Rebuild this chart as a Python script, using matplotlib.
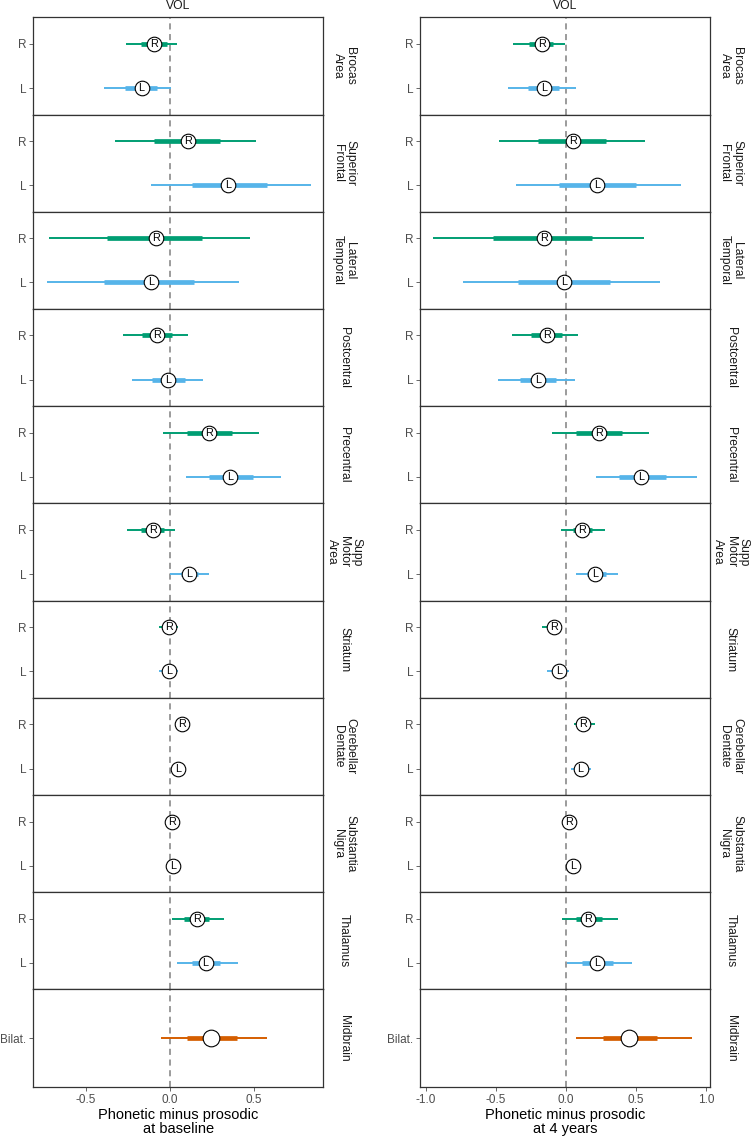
import matplotlib
matplotlib.use("Agg")
import matplotlib.pyplot as plt
import numpy as np

plt.rcParams['font.family'] = ['Liberation Sans', 'DejaVu Sans']
plt.rcParams['axes.unicode_minus'] = False

regions = ["Brocas\nArea", "Superior\nFrontal", "Lateral\nTemporal", "Postcentral",
           "Precentral", "Supp\nMotor\nArea", "Striatum", "Cerebellar\nDentate",
           "Substantia\nNigra", "Thalamus"]
bilat_region = "Midbrain"
sides = ["R", "L"]

# ---- baseline ----
base_R_mid  = [-0.097, 0.105, -0.083, -0.075, 0.230, -0.099, -0.006, 0.071, 0.010, 0.159]
base_R_lo95 = [-0.262, -0.327, -0.718, -0.282, -0.042, -0.258, -0.067, 0.040, -0.005, 0.010]
base_R_hi95 = [0.040, 0.514, 0.476, 0.105, 0.528, 0.030, 0.049, 0.100, 0.025, 0.321]
base_R_lo66 = [-0.171, -0.095, -0.375, -0.165, 0.103, -0.171, -0.035, 0.055, 0.002, 0.083]
base_R_hi66 = [-0.020, 0.298, 0.189, 0.010, 0.367, -0.036, 0.020, 0.085, 0.018, 0.232]

base_L_mid  = [-0.169, 0.347, -0.115, -0.010, 0.357, 0.113, -0.004, 0.050, 0.020, 0.212]
base_L_lo95 = [-0.391, -0.113, -0.734, -0.228, 0.095, 0.002, -0.067, 0.025, 0.005, 0.044]
base_L_hi95 = [0.006, 0.837, 0.413, 0.194, 0.661, 0.234, 0.049, 0.075, 0.035, 0.405]
base_L_lo66 = [-0.268, 0.133, -0.391, -0.105, 0.232, 0.067, -0.035, 0.038, 0.012, 0.133]
base_L_hi66 = [-0.079, 0.575, 0.143, 0.089, 0.492, 0.169, 0.025, 0.062, 0.028, 0.298]

base_mid_bilat = [0.246, -0.054, 0.575, 0.103, 0.397]  # mid, lo95, hi95, lo66, hi66

# ---- 4 years ----
y4_R_mid  = [-0.171, 0.048, -0.157, -0.133, 0.233, 0.112, -0.086, 0.126, 0.026, 0.157]
y4_R_lo95 = [-0.374, -0.479, -0.945, -0.383, -0.098, -0.038, -0.169, 0.060, 0.005, -0.029]
y4_R_hi95 = [-0.007, 0.564, 0.557, 0.090, 0.593, 0.279, -0.033, 0.205, 0.045, 0.371]
y4_R_lo66 = [-0.260, -0.198, -0.521, -0.248, 0.074, 0.050, -0.130, 0.090, 0.015, 0.069]
y4_R_hi66 = [-0.088, 0.288, 0.186, -0.026, 0.400, 0.188, -0.050, 0.165, 0.037, 0.255]

y4_L_mid  = [-0.157, 0.221, -0.014, -0.195, 0.538, 0.210, -0.050, 0.105, 0.050, 0.221]
y4_L_lo95 = [-0.410, -0.355, -0.731, -0.483, 0.217, 0.076, -0.131, 0.040, 0.030, 0.007]
y4_L_hi95 = [0.069, 0.819, 0.669, 0.062, 0.936, 0.371, 0.021, 0.181, 0.070, 0.474]
y4_L_lo66 = [-0.269, -0.048, -0.338, -0.324, 0.376, 0.150, -0.090, 0.070, 0.040, 0.114]
y4_L_hi66 = [-0.050, 0.498, 0.314, -0.069, 0.717, 0.288, -0.010, 0.145, 0.060, 0.338]

y4_mid_bilat = [0.450, 0.074, 0.902, 0.264, 0.652]

col_titles = ["Phonetic minus prosodic\nat baseline", "Phonetic minus prosodic\nat 4 years"]
xticks_cols = [[-0.5, 0.0, 0.5], [-1.0, -0.5, 0.0, 0.5, 1.0]]
xlims = [(-0.814, 0.911), (-1.04, 1.026)]

colors = {"R": "#009E73", "L": "#56B4E9", "Bilat.": "#D55E00"}

W, H = 753, 1140
fig = plt.figure(figsize=(W / 100, H / 100), dpi=100)

col_left_px = [33.3, 420.0]
col_width_px = 289.7
top_px, bot_px = 17.3, 1086.7
n_rows = len(regions) + 1
row_h = (bot_px - top_px) / n_rows

cols = [
    dict(R=(base_R_mid, base_R_lo95, base_R_hi95, base_R_lo66, base_R_hi66),
         L=(base_L_mid, base_L_lo95, base_L_hi95, base_L_lo66, base_L_hi66),
         B=base_mid_bilat),
    dict(R=(y4_R_mid, y4_R_lo95, y4_R_hi95, y4_R_lo66, y4_R_hi66),
         L=(y4_L_mid, y4_L_lo95, y4_L_hi95, y4_L_lo66, y4_L_hi66),
         B=y4_mid_bilat),
]

tick_col = "#4d4d4d"
frame_col = "#333333"


def draw_interval(ax, y, mid, lo95, hi95, lo66, hi66, color, label, big=False):
    ax.plot([lo95, hi95], [y, y], color=color, lw=1.4, solid_capstyle="butt", zorder=2)
    ax.plot([lo66, hi66], [y, y], color=color, lw=3.4, solid_capstyle="butt", zorder=2)
    ax.scatter([mid], [y], s=(12 if big else 10.5) ** 2, facecolor="white",
               edgecolor="black", linewidth=0.8, zorder=3)
    if label:
        ax.text(mid, y, label, ha="center", va="center", fontsize=7.8,
                color="black", zorder=4)


for ci, cd in enumerate(cols):
    for ri in range(n_rows):
        y0 = top_px + ri * row_h
        ax = fig.add_axes([col_left_px[ci] / W, 1 - (y0 + row_h) / H,
                           col_width_px / W, row_h / H])
        ax.set_xlim(*xlims[ci])
        ax.axvline(0, color="#808080", lw=1.1, ls=(0, (4, 3)), zorder=1)
        if ri < len(regions):
            ax.set_ylim(2.6, 0.4)
            for si, s in enumerate(sides):
                mid, lo95, hi95, lo66, hi66 = [v[ri] for v in cd[s]]
                draw_interval(ax, si + 1, mid, lo95, hi95, lo66, hi66, colors[s], s)
            ax.set_yticks([1, 2])
            ax.set_yticklabels(sides)
            strip = regions[ri]
        else:
            ax.set_ylim(1.6, 0.4)
            mid, lo95, hi95, lo66, hi66 = cd["B"]
            draw_interval(ax, 1, mid, lo95, hi95, lo66, hi66, colors["Bilat."], None, big=True)
            ax.set_yticks([1])
            ax.set_yticklabels(["Bilat."])
            strip = bilat_region
        ax.tick_params(axis="y", length=3, width=0.6, color=tick_col, labelcolor=tick_col,
                       labelsize=8.5, pad=2)
        for sp in ax.spines.values():
            sp.set_color(frame_col)
            sp.set_linewidth(0.9)
        if ri == n_rows - 1:
            ax.set_xticks(xticks_cols[ci])
            ax.set_xticklabels([f"{v:.1f}" for v in xticks_cols[ci]])
            ax.tick_params(axis="x", length=3, width=0.6, color=tick_col, labelcolor=tick_col,
                           labelsize=8.5, pad=2)
            ax.set_xlabel(col_titles[ci], fontsize=10.5, color="black", labelpad=2,
                          linespacing=1.0)
        else:
            ax.set_xticks([])
        ax.text(1.0 + 21 / col_width_px, 0.5, strip, transform=ax.transAxes,
                rotation=-90, ha="center", va="center", fontsize=8.7,
                color="#1a1a1a", linespacing=1.05)
        if ri == 0:
            ax.text(0.5, 1.0 + 5 / row_h, "VOL", transform=ax.transAxes,
                    ha="center", va="bottom", fontsize=8.7, color="#1a1a1a")

fig.savefig("out.png", dpi=100)
